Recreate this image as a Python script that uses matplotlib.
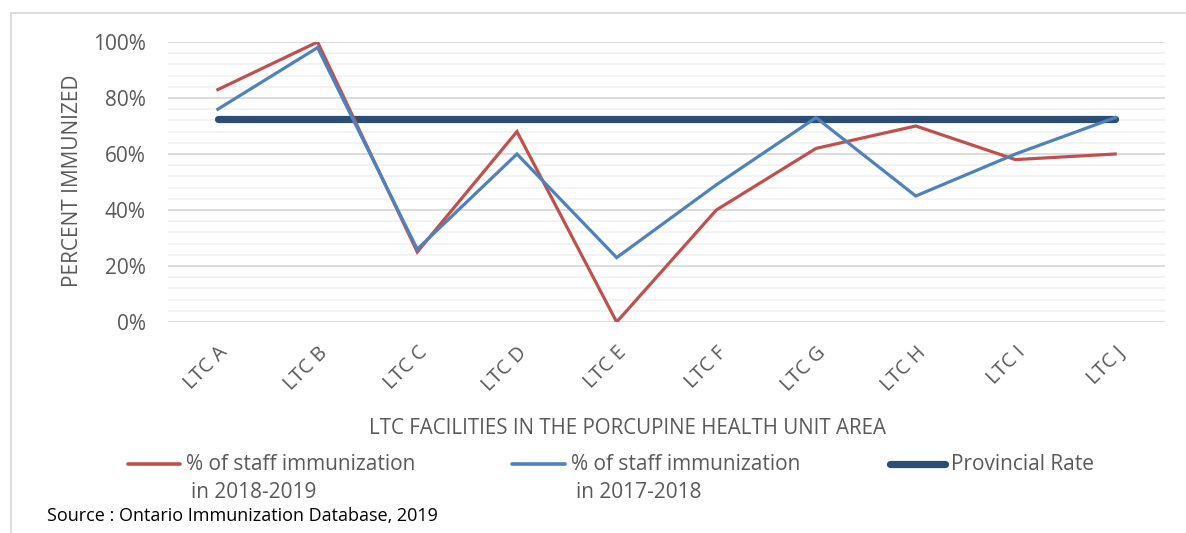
import matplotlib
matplotlib.use("Agg")
import matplotlib.pyplot as plt
from matplotlib.lines import Line2D
from matplotlib.ticker import MultipleLocator, PercentFormatter

categories = ["LTC A", "LTC B", "LTC C", "LTC D", "LTC E", "LTC F", "LTC G", "LTC H", "LTC I", "LTC J"]
staff_2018_2019 = [83, 100, 25, 68, 0, 40, 62, 70, 58, 60]
staff_2017_2018 = [76, 98, 26, 60, 23, 49, 73, 45, 60, 73]
provincial_rate = [72.5] * len(categories)

label_red = "% of staff immunization\nin 2018-2019"
label_blue = "% of staff immunization\nin 2017-2018"
label_prov = "Provincial Rate"

RED = "#c0504d"
BLUE = "#4f81bd"
NAVY = "#2c4d75"
GRAY = "#595959"
FONT = "Open Sans"

plt.rcParams["font.family"] = [FONT, "DejaVu Sans"]

W, H = 1186, 533
fig = plt.figure(figsize=(W / 100, H / 100), dpi=100)

ax = fig.add_axes([168 / W, 1 - 322 / H, (1165 - 168) / W, (322 - 42) / H])

x = list(range(len(categories)))
ax.plot(x, staff_2018_2019, color=RED, lw=2.3, solid_joinstyle="miter", zorder=3)
ax.plot(x, staff_2017_2018, color=BLUE, lw=2.3, solid_joinstyle="miter", zorder=4)
ax.plot(x, provincial_rate, color=NAVY, lw=5.2, solid_capstyle="round", zorder=2)

ax.set_xlim(-0.5, len(categories) - 0.5)
ax.set_ylim(0, 100)
ax.yaxis.set_major_locator(MultipleLocator(20))
ax.yaxis.set_minor_locator(MultipleLocator(4))
ax.yaxis.set_major_formatter(PercentFormatter(decimals=0))
ax.grid(which="major", axis="y", color="#d9d9d9", lw=1.3, zorder=0)
ax.grid(which="minor", axis="y", color="#f2f2f2", lw=1.3, zorder=0)
ax.set_axisbelow(True)
for s in ax.spines.values():
    s.set_visible(False)
ax.tick_params(axis="both", which="both", length=0)
ax.tick_params(axis="y", labelsize=15, labelcolor=GRAY, pad=16)
ax.set_xticks(x)
ax.set_xticklabels(categories, rotation=45, ha="right", rotation_mode="anchor",
                   fontsize=14.5, color=GRAY)
ax.tick_params(axis="x", pad=15)

ax.set_ylabel("PERCENT IMMUNIZED", fontsize=15, color=GRAY)
ax.yaxis.set_label_coords((72 - 168) / (1165 - 168), (322 - 181) / (322 - 42))
ax.yaxis.label.set_va("center")
fig.text(627 / W, 1 - 428 / H, "LTC FACILITIES IN THE PORCUPINE HEALTH UNIT AREA",
         ha="center", va="center", fontsize=14.8, color=GRAY)

# outer frame
fig.add_artist(Line2D([10.5 / W, 10.5 / W], [0, 1 - 13 / H], transform=fig.transFigure,
                      color="#d9d9d9", lw=1.3))
fig.add_artist(Line2D([10.5 / W, 1], [1 - 13 / H, 1 - 13 / H], transform=fig.transFigure,
                      color="#d9d9d9", lw=1.3))

# legend
legend_items = [
    (128, 180, 186, RED, 2.6, label_red),
    (512, 565, 571, BLUE, 2.6, label_blue),
    (890, 945, 951, NAVY, 5.2, label_prov),
]
ly = 1 - 464 / H
for x0, x1, tx, col, lw, lab in legend_items:
    fig.add_artist(Line2D([x0 / W, x1 / W], [ly, ly], transform=fig.transFigure,
                          color=col, lw=lw, solid_capstyle="round"))
    lines = lab.split("\n")
    fig.text(tx / W, ly, lines[0], ha="left", va="center", fontsize=15, color=GRAY)
    if len(lines) > 1:
        fig.text((tx + 5) / W, 1 - 492 / H, lines[1], ha="left", va="center",
                 fontsize=15, color=GRAY)

fig.text(47 / W, 1 - 516 / H, "Source : Ontario Immunization Database, 2019",
         ha="left", va="center", fontsize=13, color="black")

fig.savefig("out.png", dpi=100)
